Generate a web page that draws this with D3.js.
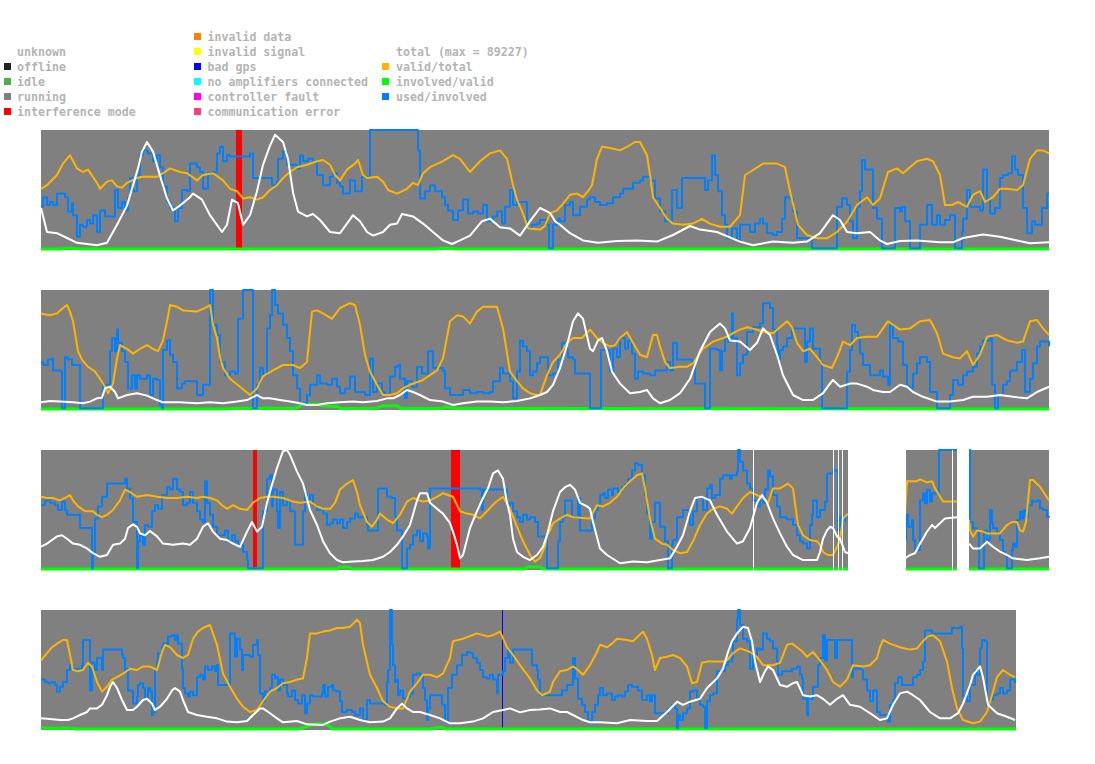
<!DOCTYPE html>
<html>
<head>
<meta charset="utf-8">
<script src="https://cdn.jsdelivr.net/npm/d3@7"></script>
<style>
  body { margin: 0; background: #fff; }
  #canvas { width: 1095px; height: 764px; }
</style>
</head>
<body>
<div id="canvas"></div>
<script>
// ----- data: one day per strip, t = sample index (0..1008), values in % -----

// status intervals [start, end, state]
const status1 = [[0, 1008, 'running'], [194.7, 200.7, 'interference']];
const status2 = [[0, 1008, 'running']];
const status3 = [[0, 1008, 'running'], [211.7, 215.7, 'interference'], [410, 419, 'interference'],
  [711.8, 712.8, 'unknown'], [791.7, 793, 'unknown'], [797.3, 798.3, 'unknown'], [801, 802.3, 'unknown'],
  [807, 865, 'unknown'], [910.7, 912.3, 'unknown'], [915.7, 928, 'unknown']];
const status4 = [[0, 975, 'running'], [460.7, 462.2, 'badgps']];

// total (white), share of max = 89227
const total1 = [[0,35],[6,15],[16,14],[26,10],[36,6],[56,4],[66,6],[76,21],[86,37],[92,54],[97,68],[101,82],[106,90],[112,82],[119,62],[126,43],[132,33],[139,37],[149,44],[152,47],[161,42],[169,29],[181,15],[186,21],[191,42],[197,39],[202,21],[209,29],[216,49],[222,71],[229,87],[234,96],[242,90],[247,76],[252,48],[257,32],[266,28],[272,30],[279,25],[289,15],[299,14],[306,22],[312,29],[319,24],[326,15],[332,12],[342,15],[349,21],[356,22],[361,30],[372,28],[382,22],[392,15],[402,8],[411,5],[419,8],[429,12],[441,24],[449,26],[459,19],[469,18],[479,12],[489,24],[499,35],[509,31],[514,24],[519,21],[529,14],[542,8],[557,6],[576,7.5],[596,8],[616,7],[632,12.5],[649,20],[659,17],[676,15],[699,7],[712,4],[732,7],[752,6],[766,7],[779,14],[792,29],[799,25],[806,15],[816,14],[829,15],[839,8],[846,5],[859,7.5],[876,8],[899,6.4],[912,6.4],[922,10],[942,13],[959,11],[976,8],[989,5.6],[1008,6.4]];
const total2 = [[0,6.4],[9,7.5],[19,7],[32,6.4],[42,5.6],[49,7],[56,9.7],[61,10.3],[64,18],[69,19.4],[74,15],[77,9.7],[86,12.5],[96,14],[106,12],[116,8.3],[122,6.4],[139,6.4],[156,5.6],[169,6.4],[182,5.6],[196,7],[206,8.3],[216,12.5],[222,9.7],[229,9.7],[239,8.3],[249,7],[259,5.6],[266,4.2],[276,4.2],[286,5.6],[299,6.4],[312,7],[322,6.4],[336,7.5],[346,9.7],[352,9.7],[359,12.5],[366,16.7],[372,15],[379,12.5],[389,8.3],[402,7],[412,4.2],[422,5.6],[436,7],[449,7],[462,6.4],[476,7.5],[489,9.7],[499,12.5],[506,15],[512,21],[519,35],[526,54],[532,74],[537,80.5],[542,76],[549,51],[552,49],[557,58],[561,60],[566,49],[571,32],[579,22],[589,14],[599,15],[606,16.7],[612,9.7],[619,5.6],[629,8.3],[639,14],[649,26],[659,49],[669,65],[679,72],[684,68],[689,58],[699,57],[709,50],[716,56],[722,68],[729,62.5],[736,46],[742,29],[752,12.5],[762,8.3],[772,8.3],[782,14],[789,22],[792,25],[799,19.4],[809,22],[816,22],[826,19.4],[832,16.7],[842,15],[849,15],[859,21],[866,19.4],[872,15],[882,11],[896,7],[909,7],[922,8.3],[932,11],[946,11],[959,12.5],[972,11],[986,9.7],[996,15],[1008,19.4]];
const total3 = [[0,19.4],[6,22],[11,25],[16,28],[21,29],[26,26],[32,22],[39,21],[46,18],[52,14],[59,11],[66,12.5],[72,21],[79,22],[84,26],[87,35],[92,38],[96,36],[99,30.5],[104,29],[109,32.5],[116,28],[122,22],[132,21],[142,22],[149,21],[156,26],[162,36],[167,39],[172,32],[179,26],[186,25],[192,22],[199,19.4],[206,32],[211,40],[216,32],[221,36],[226,56],[231,71],[236,85],[242,99],[246,100],[249,96],[256,82],[262,72],[269,50],[276,37.5],[282,24],[289,14],[296,8.3],[302,6.4],[312,7],[322,7.5],[332,8.3],[342,11],[349,15],[356,21],[362,28],[369,37.5],[376,58],[379,64],[386,64],[389,56],[396,51],[402,47],[409,39],[412,32],[416,21],[419,9.7],[422,12.5],[429,35],[436,49],[442,60],[447,68],[452,80.5],[457,83],[462,76],[466,56],[469,46],[472,26],[476,15],[482,11],[489,8.3],[496,12.5],[502,19.4],[506,29],[512,49],[519,65],[524,69],[529,71],[534,67],[539,56],[546,53],[549,51],[552,40],[559,18],[566,12.5],[579,5.6],[592,7],[606,6.4],[619,8.3],[629,9.7],[636,19.4],[642,29],[649,49],[654,60],[661,61],[669,58],[676,46],[686,32],[696,22],[702,24],[709,35],[716,56],[721,62.5],[726,56],[732,43],[739,30.5],[746,19.4],[752,12.5],[762,8.3],[776,8.3],[779,15],[782,26],[786,33],[789,36],[792,35],[796,28],[799,26],[802,19.4],[804,15],[807,14],[807,null],[864,null],[864,9.7],[869,12.5],[874,14],[879,22],[882,26],[886,32],[891,37.5],[894,35],[899,39],[904,43],[916,44],[916,null],[928,null],[928,22],[932,18],[939,18],[946,23.6],[952,19.4],[959,15.3],[966,12.5],[972,9.7],[986,8.3],[999,9.7],[1008,11]];
const total4 = [[0,9.7],[9,9.2],[19,8.3],[27,8.3],[32,9.7],[39,12.5],[46,15],[49,18],[56,18],[61,21],[66,29],[69,36],[72,40],[76,35],[81,25],[86,16.7],[92,16.7],[96,19.4],[102,25],[106,26],[111,22],[114,16.7],[119,19.4],[126,26],[131,33],[134,35],[139,32],[142,25],[147,15],[156,12.5],[166,11],[176,9.7],[186,7],[196,6.4],[206,7.5],[212,12.5],[219,18],[222,18],[229,14],[236,9.7],[242,6.4],[256,7.5],[266,4.7],[282,4.2],[289,7],[299,9.7],[309,11],[319,8.3],[329,6.4],[342,7],[349,9.7],[356,18],[361,22],[366,18],[372,15],[379,15],[389,12.5],[399,9.7],[409,5.6],[419,5.6],[432,7],[442,9.7],[452,15],[462,16.7],[469,18],[479,14.7],[489,16.7],[499,17],[509,18],[519,15],[526,15],[532,12.5],[542,8.3],[549,6.4],[559,6.4],[576,5.6],[589,8.3],[606,7.5],[616,7.5],[626,15],[636,23.6],[642,21],[649,23.6],[659,26],[666,35],[676,43],[682,51],[687,65],[691,74],[696,80.5],[702,86],[707,85],[711,74],[714,57],[719,40],[724,49],[727,53],[732,50],[739,37.5],[746,36],[752,39],[756,40],[762,29],[769,28],[776,29],[782,26],[789,21],[796,26],[802,29],[809,21],[819,19.4],[829,14],[839,8.3],[846,9.7],[852,21],[859,30.5],[866,32],[872,29],[879,25],[889,15],[899,9.7],[909,9.7],[917,14],[922,22],[929,37.5],[932,46],[939,53],[942,44],[947,21],[956,14],[966,11],[974,8.3]];

// valid/total (orange)
const valid1 = [[0,51],[6,54],[16,62.5],[22,72],[29,79],[36,68],[42,65],[47,67],[56,56],[59,51],[66,57],[71,58],[76,53],[81,52],[86,56],[96,60],[102,61],[116,61],[122,64],[129,68],[139,65],[146,64],[156,58],[162,62.5],[172,64],[182,58],[189,51],[196,49],[202,43],[209,44],[216,42],[222,44],[229,50],[236,54],[242,60],[249,65],[256,69],[266,71],[276,74],[282,75],[289,71],[294,62.5],[299,58],[306,67],[314,72],[317,75],[322,62.5],[326,60],[336,61],[342,57],[347,50],[356,47],[366,51],[372,56],[377,54],[382,64],[389,69],[402,74],[412,79],[419,76],[429,65],[439,74],[449,80.5],[459,83],[466,76],[472,54],[476,42],[482,30.5],[487,18],[499,17],[504,20],[509,30.5],[516,33],[521,37.5],[529,46],[536,47],[542,44],[547,49],[551,54],[556,76],[561,86],[569,85],[579,83],[586,86],[594,90],[599,90],[606,79],[609,62.5],[612,44],[619,35],[626,26],[632,22],[642,21],[652,22],[661,26],[669,22],[679,19.4],[689,19.4],[699,29],[704,62.5],[709,65],[722,72],[736,72],[744,69],[749,49],[757,21],[766,12.5],[776,9.7],[786,9.7],[796,15],[806,23.6],[816,37.5],[826,44],[832,37.5],[839,43],[847,65],[856,68],[862,64],[869,69],[876,74],[886,76],[892,74],[899,62.5],[904,37.5],[911,37.5],[917,40],[926,36],[932,46],[939,49],[944,40],[952,44],[959,51],[966,51],[976,50],[982,54],[989,76],[996,83],[1002,83],[1008,80.5]];
const valid2 = [[0,80.5],[9,79],[16,80.5],[22,85],[26,87.5],[29,82],[32,74],[37,49],[41,42],[47,36],[54,32],[59,26],[64,19.4],[67,14],[72,22],[76,43],[79,54],[86,51],[92,47],[99,51],[106,54],[112,51],[117,49],[122,58],[126,74],[129,87.5],[136,86],[142,83],[156,82],[166,86],[169,87.5],[172,71],[176,60],[179,44],[182,35],[189,26],[199,19.4],[209,12.5],[216,18],[222,28],[232,33],[242,37.5],[252,37.5],[259,35],[266,40],[271,82],[276,83],[282,80.5],[291,76],[299,85],[309,89],[314,87.5],[319,71],[324,46],[329,32],[336,21],[342,12.5],[349,12.5],[356,14],[362,18],[369,21],[382,25],[396,33],[402,43],[409,74],[416,79],[422,78],[429,72],[436,82],[442,86],[456,86],[462,68],[469,32],[476,24],[482,18],[489,14],[496,12.5],[499,12.5],[506,29],[512,40],[519,46],[526,56],[532,60],[541,60],[549,67],[556,60],[562,56],[569,53],[574,54],[579,60],[586,65],[592,56],[599,46],[606,44],[612,62.5],[616,62.5],[619,53],[624,40],[629,35],[639,36],[646,36],[652,39],[662,51],[672,57],[686,61],[692,64],[699,67],[706,69],[716,67],[722,65],[732,64],[746,74],[751,69],[756,56],[762,49],[769,51],[776,44],[782,37.5],[791,35],[797,46],[802,57],[809,54],[816,60],[826,61],[836,61],[842,68],[847,74],[852,71],[859,67],[869,68],[879,74],[889,75],[896,64],[902,47],[912,44],[919,43],[926,49],[932,37.5],[939,46],[946,61],[956,62.5],[966,58],[976,56],[982,57],[989,74],[996,75],[1002,68],[1008,62.5]];
const valid3 = [[0,61],[6,60],[12,60],[19,58],[26,61],[29,62.5],[32,58],[37,53],[44,49],[52,49],[56,46],[61,44],[66,46],[72,50],[79,58],[84,67],[89,65],[96,61],[106,62.5],[116,61],[126,60],[136,60],[146,61],[156,60],[162,61],[169,60],[176,58],[181,54],[186,51],[192,54],[199,51],[206,50],[212,56],[219,60],[226,61],[232,61],[242,60],[252,57],[259,56],[269,57],[276,53],[282,51],[289,51],[294,56],[299,67],[306,72],[312,75],[316,65],[319,54],[326,40],[331,36],[336,42],[339,47],[346,42],[352,39],[359,46],[366,57],[372,60],[382,57],[389,58],[396,61],[402,64],[412,61],[419,49],[426,47],[432,46],[439,43],[446,49],[454,56],[462,61],[469,51],[476,36],[482,24],[489,12.5],[494,7],[499,10],[504,20],[506,29],[509,33],[512,39],[519,43],[526,46],[532,44],[549,43],[556,54],[562,53],[569,56],[576,61],[582,68],[589,74],[596,79],[601,80.5],[604,68],[609,43],[614,26],[621,22],[626,21],[632,16.7],[639,14],[646,15],[652,24],[659,37.5],[666,47],[672,51],[679,53],[686,51],[691,47],[696,53],[702,60],[709,65],[716,62.5],[722,60],[727,56],[732,68],[739,68],[747,72],[752,68],[757,37.5],[762,29],[769,25],[776,24],[779,21],[782,15],[787,12.5],[792,12.5],[796,19.4],[799,25],[802,43],[806,46],[807,47],[807,null],[864,null],[864,48.6],[866,74],[876,74],[879,75.5],[886,73],[891,74],[894,68],[897,64],[902,57],[916,57],[916,null],[928,null],[928,41.7],[929,33],[932,27.8],[936,33],[942,32],[946,30.5],[952,30.5],[959,30.5],[966,37.5],[971,40],[976,40],[979,33],[982,32],[985,40],[989,75],[992,75],[999,69.4],[1008,58]];
const valid4 = [[0,58],[6,64],[11,69],[16,72],[22,75],[26,75],[29,62.5],[32,50],[37,49],[42,50],[47,56],[51,53],[56,40],[61,32],[66,36],[71,42],[76,44],[82,47],[89,51],[96,50],[102,53],[109,53],[116,50],[121,65],[124,71],[129,69],[136,62.5],[142,60],[147,62.5],[152,76],[157,82],[162,85],[169,87.5],[176,71],[182,47],[189,36],[196,26],[202,19.4],[209,15],[216,16.7],[222,24],[229,32],[236,35],[242,39],[249,40],[256,42],[262,43],[266,60],[269,80.5],[276,80.5],[282,82],[289,83],[296,85],[302,85],[309,86],[316,92],[319,89],[322,71],[329,46],[336,35],[342,24],[349,19.4],[356,18],[362,18],[369,32],[376,39],[382,46],[389,46],[396,44],[402,47],[409,60],[412,74],[422,76],[436,80.5],[446,78],[452,79],[459,82],[466,69],[472,62.5],[479,54],[489,43],[496,33],[501,29],[504,30],[509,32],[512,40],[519,49],[526,50],[532,53],[537,50],[542,46],[549,54],[556,65],[559,71],[566,69],[571,72],[576,76],[586,75],[592,74],[597,78],[602,82],[606,76],[611,62.5],[614,50],[619,60],[626,61],[632,62.5],[639,60],[646,53],[651,39],[656,40],[661,56],[666,57],[682,57],[686,58],[692,64],[699,68],[709,65],[716,61],[722,54],[732,54],[739,56],[746,71],[751,72],[756,69],[762,65],[766,61],[772,65],[779,58],[786,50],[792,40],[799,36],[806,42],[812,54],[822,53],[829,54],[836,60],[839,69],[842,75],[849,72],[859,69],[869,67],[876,68],[882,74],[887,78],[892,79],[899,74],[906,57],[911,35],[916,18],[922,8.3],[932,5.6],[939,7],[946,15],[951,29],[956,44],[962,50],[969,46],[974,44]];

// involved/valid (green)
const involved1 = [[0,0.8],[20,0.8],[28,1.6],[40,0.8],[395,0.8],[405,1.5],[415,0.8],[1008,0.8]];
const involved2 = [[0,0.8],[180,0.8],[200,1.5],[255,1.5],[262,5],[276,5],[282,3.5],[296,3],[300,1.2],[336,1.5],[342,3.6],[356,3.6],[360,1.2],[400,1.2],[405,2.5],[415,1.2],[1008,0.8]];
const involved3 = [[0,0.8],[296,0.8],[298,2.2],[309,2.2],[311,0.8],[484,0.8],[487,2.5],[499,2.5],[502,0.8],[807,0.8],[807,null],[864,null],[864,0.8],[916,0.8],[916,null],[928,null],[928,0.8],[1008,0.8]];
const involved4 = [[0,1.4],[30,1.4],[35,0.8],[258,0.8],[266,3],[275,5],[285,5],[292,0.8],[390,0.8],[395,2],[402,2],[405,0.8],[975,0.8]];

// used/involved (blue)
const used1 = [[0,36],[2,44],[6,37.5],[9,40],[12,37.5],[16,47],[24,44],[27,32],[31,39],[32,29],[36,11],[39,21],[42,19.4],[46,25],[49,22],[52,29],[56,15],[59,33],[64,28],[74,50],[77,35],[81,40],[84,33],[87,44],[89,60],[92,49],[96,62.5],[99,79],[102,83],[107,80.5],[112,74],[116,79],[119,69],[122,53],[126,40],[129,35],[134,24],[137,35],[141,50],[146,49],[149,72],[156,69],[159,65],[162,51],[167,64],[172,65],[176,80.5],[179,86],[182,74],[186,79],[189,78],[209,80.5],[212,60],[229,60],[231,54],[236,57],[237,76],[242,82],[246,71],[256,68],[259,79],[262,74],[267,76],[272,74],[276,62.5],[282,54],[289,61],[292,64],[296,56],[299,53],[302,47],[309,58],[314,49],[321,61],[329,100],[376,100],[377,83],[379,43],[384,49],[389,54],[394,49],[401,44],[404,37.5],[407,33],[412,25],[417,33],[422,42],[427,30.5],[432,32],[437,30.5],[442,37.5],[446,24],[452,28],[456,32],[461,22],[464,36],[469,50],[472,37.5],[476,40],[486,18],[491,21],[496,22],[499,25],[506,21],[508,1.4],[512,21],[517,26],[519,24],[524,37.5],[529,40],[532,29],[539,36],[546,42],[549,44],[554,40],[559,37.5],[566,39],[572,44],[579,47],[582,51],[592,56],[599,58],[602,61],[609,58],[614,43],[619,32],[624,24],[631,50],[636,35],[641,60],[662,60],[664,50],[667,58],[671,79],[674,62.5],[677,49],[681,29],[684,21],[686,9.7],[691,18],[696,8.3],[699,21],[709,15],[714,22],[719,26],[722,22],[726,14],[732,12.5],[736,15],[741,26],[744,44],[749,43],[752,32],[756,9.7],[771,1.4],[796,36],[801,43],[806,37.5],[809,24],[812,9.7],[816,36],[819,49],[821,75],[824,67],[832,35],[836,26],[841,1.4],[854,35],[859,32],[861,36],[864,24],[869,1.4],[879,21],[886,37.5],[891,21],[896,29],[899,21],[904,25],[909,29],[914,1.4],[921,15],[922,26],[926,50],[929,36],[939,33],[942,67],[946,42],[949,30.5],[954,35],[959,60],[962,62.5],[967,64],[971,78],[974,67],[977,62.5],[982,35],[986,14],[991,24],[994,21],[1001,35],[1006,47],[1008,47]];
const used2 = [[0,40],[2,37.5],[7,42],[11,43],[12,33],[19,33],[21,1.4],[22,1.4],[24,44],[27,42],[31,37.5],[38,37.5],[39,1.4],[61,1.4],[62,21],[67,21],[69,49],[71,60],[74,49],[76,67],[77,56],[81,49],[84,40],[87,18],[91,29],[94,18],[96,29],[99,26],[106,29],[109,12.5],[112,26],[116,25],[119,4.2],[121,1.4],[122,50],[126,58],[129,46],[132,40],[136,18],[141,22],[144,24],[149,24],[156,12.5],[159,12.5],[162,21],[166,21],[169,100],[172,71],[176,62.5],[179,40],[184,29],[189,32],[194,30.5],[197,76],[202,100],[211,100],[212,1.4],[216,21],[219,35],[222,29],[226,68],[229,79],[231,100],[234,87.5],[237,80.5],[242,71],[246,60],[249,49],[252,29],[256,18],[259,5.6],[262,5.6],[266,12.5],[269,21],[276,29],[279,22],[286,21],[291,26],[296,19.4],[299,14],[304,18],[309,28],[314,15],[319,15],[324,12.5],[329,43],[332,15],[336,22],[341,15],[344,12.5],[349,28],[354,36],[357,37.5],[359,26],[364,9.7],[366,24],[371,19.4],[376,36],[381,30.5],[387,49],[392,35],[402,33],[404,18],[409,12.5],[416,12.5],[422,16.7],[429,14],[436,15],[442,14],[449,15],[452,24],[459,35],[462,30.5],[469,24],[472,9.7],[476,32],[479,58],[482,53],[486,49],[489,29],[492,32],[496,39],[499,44],[506,44],[507,29],[512,30.5],[517,42],[521,56],[524,51],[527,44],[532,42],[534,30.5],[547,30.5],[549,1.4],[559,1.4],[560,50],[566,50],[569,32],[572,51],[576,44],[579,60],[584,51],[587,58],[591,47],[594,26],[597,32],[602,30.5],[609,29],[614,33],[624,33],[626,40],[629,33],[632,56],[636,42],[651,40],[654,22],[662,22],[664,1.4],[667,1.4],[669,51],[676,50],[679,33],[681,49],[684,60],[687,57],[691,80.5],[692,60],[696,29],[699,39],[702,46],[706,65],[712,69],[719,72],[722,89],[729,85],[732,67],[736,54],[737,42],[739,50],[742,53],[746,60],[751,68],[762,68],[764,40],[766,57],[769,68],[772,51],[779,40],[781,1.4],[804,1.4],[806,32],[809,50],[811,71],[814,65],[817,60],[819,47],[822,37.5],[829,29],[839,33],[842,28],[847,21],[849,71],[852,60],[857,57],[862,37.5],[866,19.4],[869,18],[872,30.5],[876,39],[879,44],[886,40],[889,15],[896,1.4],[906,1.4],[909,12.5],[912,25],[917,21],[922,29],[926,32],[932,36],[936,47],[939,53],[942,58],[949,60],[951,21],[954,1.4],[957,12.5],[962,21],[966,24],[969,33],[976,40],[981,50],[984,15],[989,26],[992,39],[996,53],[999,57],[1008,53]];
const used3 = [[0,54],[4,58],[9,56],[14,54],[17,50],[21,57],[24,50],[26,46],[37,46],[39,35],[49,35],[51,1.4],[52,12.5],[54,43],[57,53],[61,61],[66,72],[76,72],[84,76],[86,68],[89,60],[92,40],[96,1.4],[97,24],[99,29],[102,21],[104,37.5],[107,36],[111,49],[114,54],[117,51],[121,62.5],[126,69],[129,67],[132,76],[136,67],[139,65],[142,54],[146,56],[149,65],[152,56],[156,49],[159,42],[162,40],[164,74],[166,56],[169,46],[172,36],[176,29],[181,29],[184,33],[187,24],[191,29],[194,24],[197,21],[202,15],[206,8.3],[207,1.4],[221,1.4],[222,49],[226,76],[229,79],[231,53],[232,67],[236,49],[237,35],[239,65],[242,54],[246,58],[249,49],[254,21],[261,21],[262,49],[264,64],[266,58],[269,62.5],[272,54],[276,50],[279,51],[282,47],[286,37.5],[289,39],[292,42],[296,39],[299,42],[302,35],[306,40],[309,43],[314,47],[317,44],[322,44],[326,37.5],[327,33],[336,33],[337,68],[342,68],[346,61],[351,60],[354,44],[356,33],[359,33],[361,1.4],[366,18],[369,21],[372,29],[376,33],[379,24],[382,30.5],[386,28],[387,18],[389,68],[439,67],[441,50],[442,67],[464,67],[466,54],[469,56],[472,49],[476,44],[479,40],[482,46],[486,42],[489,44],[494,40],[497,28],[504,28],[506,1.4],[516,1.4],[517,24],[519,40],[522,44],[524,58],[529,58],[531,44],[536,44],[537,60],[539,33],[549,33],[551,43],[554,50],[557,54],[559,62.5],[562,64],[564,60],[567,67],[571,62.5],[572,68],[577,65],[581,69],[584,71],[587,76],[591,83],[594,89],[597,87.5],[601,79],[604,62.5],[606,47],[609,26],[611,40],[614,56],[619,36],[624,24],[627,1.4],[631,21],[632,25],[636,44],[642,50],[649,37.5],[652,49],[656,60],[662,50],[666,68],[669,71],[671,60],[674,62.5],[679,76],[682,79],[689,76],[691,79],[696,82],[697,100],[699,90],[702,83],[706,72],[709,68],[712,58],[716,53],[719,60],[722,56],[724,67],[727,83],[729,78],[732,62.5],[736,53],[739,44],[746,42],[752,37.5],[756,29],[759,24],[762,22],[766,18],[769,37.5],[771,46],[772,58],[776,44],[779,50],[784,57],[786,80.5],[792,83],[796,83],[797,33],[799,44],[802,41],[804,44],[807,44],[807,null],[864,null],[864,25],[865,46],[867,36],[871,41.7],[872,25],[874,16.7],[877,16.7],[879,58],[882,64],[884,55.6],[886,66.7],[889,57],[891,64],[897,64],[898,100],[916,100],[916,null],[928,null],[928,100],[929,40],[932,34.7],[936,32],[938,1.4],[942,1.4],[943,33],[946,25],[949,50],[951,39],[952,34.7],[956,30.5],[959,25],[962,15.3],[964,12.5],[966,1.4],[969,1.4],[971,16.7],[972,22],[974,19.4],[976,41.7],[979,48.6],[981,43],[983,50],[985,44.4],[987,54],[991,58],[992,57],[996,58],[999,51.4],[1002,50],[1006,44.4],[1008,45]];
const used4 = [[0,42],[4,40],[7,39],[11,40],[14,37.5],[16,32],[19,36],[22,40],[26,50],[29,54],[32,51],[39,50],[41,54],[42,75],[47,75],[49,33],[51,56],[54,50],[56,60],[59,60],[61,50],[62,67],[79,67],[81,62.5],[82,60],[84,49],[86,51],[87,33],[91,33],[92,22],[96,28],[97,37.5],[99,39],[102,35],[104,26],[107,35],[109,32],[111,12.5],[112,15],[114,50],[116,57],[117,64],[121,69],[122,72],[126,71],[127,78],[131,79],[134,75],[136,79],[137,72],[141,51],[142,35],[144,30.5],[147,28],[149,32],[152,29],[156,44],[159,46],[162,42],[164,53],[167,50],[171,53],[174,49],[176,54],[177,37.5],[189,80.5],[192,80.5],[194,61],[196,76],[199,67],[201,50],[202,62.5],[209,61],[212,71],[216,75],[217,62.5],[219,30.5],[222,24],[224,32],[229,35],[231,46],[234,43],[236,44],[237,33],[239,42],[242,37.5],[246,30.5],[247,28],[251,33],[254,25],[257,22],[261,29],[264,14],[266,22],[269,29],[272,28],[281,30.5],[282,37.5],[284,28],[287,36],[291,37.5],[292,33],[296,32],[299,24],[301,15],[306,16.7],[311,15],[314,12.5],[319,18],[322,8.3],[326,25],[329,22],[344,21],[346,40],[347,50],[349,100],[351,71],[352,54],[354,40],[356,42],[357,29],[359,33],[362,26],[366,28],[369,30.5],[372,46],[376,47],[379,46],[382,35],[384,25],[386,8.3],[387,18],[389,29],[396,29],[401,21],[404,7],[407,35],[411,46],[416,54],[421,62.5],[426,65],[429,64],[432,60],[436,56],[439,50],[442,44],[446,43],[449,46],[452,42],[456,30.5],[457,46],[462,49],[464,60],[467,67],[469,56],[472,67],[489,67],[491,54],[496,50],[497,42],[499,29],[519,29],[521,33],[526,37.5],[532,60],[534,43],[537,26],[541,21],[544,15],[547,7],[551,15],[554,21],[557,29],[559,35],[562,29],[566,30.5],[571,25],[574,28],[577,29],[581,28],[584,32],[587,37.5],[591,36],[597,33],[601,25],[606,29],[609,24],[611,29],[614,14],[627,18],[631,21],[634,18],[636,1.4],[637,12.5],[639,8.3],[642,14],[646,18],[649,32],[652,33],[656,26],[659,21],[662,19.4],[664,1.4],[666,24],[669,29],[672,30.5],[676,49],[684,54],[687,57],[691,60],[692,74],[696,93],[697,100],[699,87.5],[702,76],[706,74],[709,51],[712,62.5],[716,68],[719,67],[722,80.5],[726,76],[729,74],[732,68],[736,57],[737,46],[741,49],[751,51],[756,53],[759,46],[761,43],[762,26],[766,12.5],[767,28],[769,26],[772,36],[777,54],[779,60],[782,79],[784,58],[786,75],[794,60],[796,75],[809,75],[811,44],[812,51],[821,50],[822,42],[826,33],[829,24],[832,33],[836,15],[839,12.5],[846,12.5],[847,7],[849,21],[852,25],[854,39],[857,44],[861,37.5],[869,37.5],[872,44],[876,46],[879,50],[882,57],[884,83],[891,80.5],[906,80.5],[911,85],[919,86],[921,68],[922,28],[926,24],[929,37.5],[934,50],[936,46],[939,68],[941,75],[944,74],[946,21],[949,25],[952,29],[956,30.5],[959,35],[962,30.5],[966,33],[969,42],[974,39]];

// legend
const stateNames = ['unknown', 'offline', 'idle', 'running', 'interference mode'];
const stateColors = ['#ffffff', '#222222', '#4cb14c', '#808080', '#ff0000'];
const faultNames = ['invalid data', 'invalid signal', 'bad gps', 'no amplifiers connected', 'controller fault', 'communication error'];
const faultColors = ['#ff8000', '#ffff00', '#0000ff', '#00ffff', '#ff00ff', '#ff4080'];
const seriesNames = ['total (max = 89227)', 'valid/total', 'involved/valid', 'used/involved'];
const seriesColors = ['#ffffff', '#ffb400', '#00ff00', '#0080ff'];

// ----- globals -----
const width = 1095, height = 764;
const stripTops = [130, 290, 450, 610];
const stripH = 120;
const statusColor = { unknown: '#ffffff', running: '#808080', interference: '#ff0000', badgps: '#0000ff' };

const strips = [
  { status: status1, total: total1, valid: valid1, involved: involved1, used: used1 },
  { status: status2, total: total2, valid: valid2, involved: involved2, used: used2 },
  { status: status3, total: total3, valid: valid3, involved: involved3, used: used3 },
  { status: status4, total: total4, valid: valid4, involved: involved4, used: used4 }
];

const svg = d3.select('#canvas')
  .append('svg')
  .attr('width', width)
  .attr('height', height)
  .style('font-family', '"DejaVu Sans Mono", monospace');

// ----- legend -----
const legend = svg.append('g').attr('class', 'legend');

function legendColumn(names, colors, xBox, xText, firstRow) {
  names.forEach((name, i) => {
    const base = 41 + (firstRow + i) * 15;
    legend.append('rect')
      .attr('x', xBox).attr('y', base - 8)
      .attr('width', 7).attr('height', 7)
      .attr('fill', colors[i])
      .attr('shape-rendering', 'crispEdges');
    legend.append('text')
      .attr('x', xText).attr('y', base)
      .attr('fill', '#b4b4b4')
      .style('font-size', '11.6px')
      .style('font-weight', 'bold')
      .text(name);
  });
}
legendColumn(stateNames, stateColors, 4, 17, 1);
legendColumn(faultNames, faultColors, 194, 207.5, 0);
legendColumn(seriesNames, seriesColors, 382, 396, 1);

// ----- strips -----
const x = d3.scaleLinear().domain([0, 1008]).range([41, 1049]);

strips.forEach((s, k) => {
  const top = stripTops[k];
  const y = d3.scaleLinear().domain([0, 100]).range([top + stripH, top]);
  const g = svg.append('g').attr('class', 'strip');

  // background states (unknown drawn last, on top)
  g.append('g')
    .selectAll('rect')
    .data(s.status.filter(d => d[2] !== 'unknown'))
    .join('rect')
    .attr('x', d => x(d[0]))
    .attr('width', d => x(d[1]) - x(d[0]))
    .attr('y', top)
    .attr('height', stripH)
    .attr('fill', d => statusColor[d[2]])
    .attr('shape-rendering', 'crispEdges');

  const line = d3.line()
    .defined(d => d[1] != null)
    .x(d => x(d[0]))
    .y(d => y(d[1]));

  const series = [
    { data: s.involved, color: seriesColors[2], w: 3, curve: d3.curveLinear },
    { data: s.used, color: seriesColors[3], w: 2, curve: d3.curveStepAfter },
    { data: s.valid, color: seriesColors[1], w: 2, curve: d3.curveLinear },
    { data: s.total, color: seriesColors[0], w: 2, curve: d3.curveLinear }
  ];

  series.forEach(se => {
    g.append('path')
      .datum(se.data)
      .attr('fill', 'none')
      .attr('stroke', se.color)
      .attr('stroke-width', se.w)
      .attr('stroke-linejoin', 'round')
      .attr('d', line.curve(se.curve));
  });

  g.append('g')
    .selectAll('rect')
    .data(s.status.filter(d => d[2] === 'unknown'))
    .join('rect')
    .attr('x', d => x(d[0]))
    .attr('width', d => x(d[1]) - x(d[0]))
    .attr('y', top)
    .attr('height', stripH + 1)
    .attr('fill', statusColor.unknown)
    .attr('shape-rendering', 'crispEdges');
});
</script>
</body>
</html>
